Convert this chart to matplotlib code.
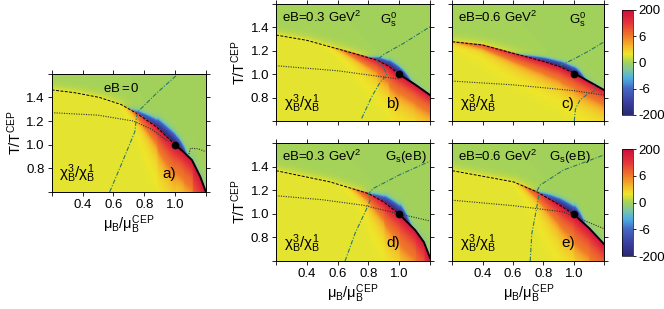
import numpy as np
import matplotlib
matplotlib.use("Agg")
import matplotlib.pyplot as plt
from matplotlib.colors import LinearSegmentedColormap, FuncNorm

plt.rcParams['font.family'] = ['Liberation Sans', 'DejaVu Sans']
plt.rcParams['mathtext.fontset'] = 'custom'
plt.rcParams['mathtext.rm'] = 'Liberation Sans'
plt.rcParams['mathtext.it'] = 'Liberation Sans'
plt.rcParams['mathtext.bf'] = 'Liberation Sans:bold'

# ---- lines (mu_B/mu_B^CEP, T/T^CEP) ----
# a) eB = 0
a_dash_mu = [0.2, 0.35, 0.51, 0.65, 0.75, 0.88, 1.0]
a_dash_T = [1.464, 1.44, 1.40, 1.34, 1.266, 1.15, 1.0]
a_solid_mu = [1.0, 1.05, 1.11, 1.163, 1.2]
a_solid_T = [1.0, 0.945, 0.869, 0.73, 0.6]
a_dot_mu = [0.2, 0.5, 0.73, 0.85, 0.95]
a_dot_T = [1.271, 1.25, 1.2, 1.13, 1.03]
a_dot2_mu = [1.09, 1.10, 1.15, 1.2]
a_dot2_T = [0.92, 0.97, 0.965, 0.94]
a_teal_mu = [0.576, 0.663, 0.739, 0.75, 0.76, 0.88, 1.02]
a_teal_T = [0.6, 0.869, 1.11, 1.237, 1.28, 1.436, 1.6]

# b) eB = 0.3 GeV^2, Gs0
b_dash_mu = [0.2, 0.4, 0.55, 0.7, 0.854, 0.93, 1.0]
b_dash_T = [1.335, 1.29, 1.235, 1.18, 1.121, 1.07, 1.0]
b_solid_mu = [1.0, 1.1, 1.2]
b_solid_T = [1.0, 0.915, 0.822]
b_dot_mu = [0.2, 0.6, 0.92, 1.0]
b_dot_T = [1.073, 1.03, 0.973, 0.96]
b_teal_mu = [0.756, 0.821, 0.875, 0.919, 0.897, 0.854, 0.90, 1.027, 1.2]
b_teal_T = [0.623, 0.808, 0.93, 0.993, 1.064, 1.121, 1.17, 1.264, 1.406]

# c) eB = 0.6 GeV^2, Gs0
c_dash_mu = [0.2, 0.4, 0.604, 0.8, 0.91, 1.0]
c_dash_T = [1.278, 1.25, 1.178, 1.11, 1.064, 1.01]
c_solid_mu = [1.0, 1.2]
c_solid_T = [1.01, 0.865]
c_dot_mu = [0.2, 0.6, 1.0, 1.2]
c_dot_T = [0.942, 0.91, 0.86, 0.822]
c_teal_mu = [1.003, 1.01, 1.04, 1.09, 1.139, 1.14, 1.125]
c_teal_T = [0.6, 0.7, 0.78, 0.83, 0.86, 0.885, 0.91]
c_teal2_mu = [0.91, 1.0, 1.1, 1.2]
c_teal2_T = [1.075, 1.13, 1.2, 1.278]

# d) eB = 0.3 GeV^2, Gs(eB)
d_dash_mu = [0.2, 0.551, 0.8, 0.9, 1.0]
d_dash_T = [1.366, 1.271, 1.172, 1.1, 0.998]
d_solid_mu = [1.0, 1.103, 1.16, 1.2]
d_solid_T = [0.998, 0.863, 0.76, 0.626]
d_dot_mu = [0.2, 0.5, 0.767, 1.0, 1.2]
d_dot_T = [1.154, 1.12, 1.073, 1.0, 0.94]
d_teal_mu = [0.648, 0.713, 0.789, 0.81, 0.80, 0.832, 1.0, 1.2]
d_teal_T = [0.6, 0.835, 1.046, 1.116, 1.17, 1.216, 1.33, 1.447]

# e) eB = 0.6 GeV^2, Gs(eB)
e_dash_mu = [0.2, 0.604, 0.757, 0.9, 1.0]
e_dash_T = [1.366, 1.271, 1.186, 1.08, 0.996]
e_solid_mu = [1.0, 1.1, 1.2]
e_solid_T = [0.996, 0.88, 0.742]
e_dot_mu = [0.2, 0.6, 0.931, 1.2]
e_dot_T = [1.116, 1.07, 1.017, 0.874]
e_teal_mu = [0.713, 0.724, 0.757, 0.768, 0.76, 0.779, 0.931, 1.2]
e_teal_T = [0.6, 0.835, 1.061, 1.145, 1.2, 1.244, 1.371, 1.5]

cbar_ticks = [-200, -6, 0, 6, 200]

# ---- colour map and norm (ticks -200,-6,0,6,200 evenly spaced) ----
cmap = LinearSegmentedColormap.from_list("chi", [
    (0.0, '#2b2973'), (0.12, '#3a3f9e'), (0.25, '#4467c2'), (0.35, '#4fb0e2'),
    (0.43, '#7fc6a0'), (0.5, '#a4d25a'), (0.58, '#eee62a'), (0.66, '#f5b42a'),
    (0.75, '#f07c28'), (0.87, '#e6363a'), (1.0, '#cc0c3c')])


def fwd(v):
    v = np.asarray(v, dtype=float)
    a = np.abs(v)
    r = np.where(a <= 6, a / 6.0, 1 + np.log(np.maximum(a, 6) / 6.0) / np.log(200 / 6.0))
    return np.sign(v) * r


def inv(r):
    r = np.asarray(r, dtype=float)
    a = np.abs(r)
    v = np.where(a <= 1, a * 6.0, 6.0 * np.exp((a - 1) * np.log(200 / 6.0)))
    return np.sign(r) * v


norm = FuncNorm((fwd, inv), vmin=-200, vmax=200)

mu = np.linspace(0.2, 1.2, 400)
tt = np.linspace(0.6, 1.6, 400)
M, T = np.meshgrid(mu, tt)


def chi_field(bmu, bT, s_red, w_red, s_blue, w_blue):
    bT_g = np.interp(mu, bmu, bT)
    slope = np.gradient(bT_g, mu)
    d = (T - bT_g[None, :]) / np.sqrt(1 + slope[None, :] ** 2)
    x = M - 1.0
    right = 1 / (1 + np.exp(-x / 0.01))
    a_red = 200 * np.exp(-(np.minimum(x, 0) / s_red) ** 2) * np.exp(-(np.maximum(x, 0) / 0.5) ** 2)
    a_blue = 200 * np.exp(-(np.minimum(x, 0) / s_blue) ** 2) * np.exp(-(np.maximum(x, 0) / 0.035) ** 2)
    dn = np.minimum(d, 0)
    dp = np.maximum(d, 0)
    below = 1.6 + a_red * (0.9 * np.exp(dn / w_red) + 0.1 * np.exp(dn / (4 * w_red)))
    above = (1.6 * np.exp(-dp / 0.03) - a_blue * np.exp(-dp / w_blue)
             - 2.5 * right * np.exp(-dp / 0.02) - 1.0 * np.exp(-dp / 0.05) * np.exp(-(x / 0.2) ** 2))
    return np.where(d < 0, below, above)


panels = [
    dict(pos=[0.078, 0.379, 0.232, 0.382], dash=(a_dash_mu, a_dash_T), solid=(a_solid_mu, a_solid_T),
         dots=[(a_dot_mu, a_dot_T), (a_dot2_mu, a_dot2_T)], teal=[(a_teal_mu, a_teal_T)],
         par=(0.15, 0.025, 0.15, 0.013), eb='eB$\\,$=$\\,$0', gs='', gx=0, tag='a)', xlab=True, ylab=True),
    dict(pos=[0.4157, 0.608, 0.232, 0.379], dash=(b_dash_mu, b_dash_T), solid=(b_solid_mu, b_solid_T),
         dots=[(b_dot_mu, b_dot_T)], teal=[(b_teal_mu, b_teal_T)],
         par=(0.2, 0.02, 0.1, 0.01), eb='eB=0.3 GeV$^2$', gs='G$_s^0$', gx=0.79, tag='b)', xlab=False, ylab=True),
    dict(pos=[0.681, 0.608, 0.229, 0.379], dash=(c_dash_mu, c_dash_T), solid=(c_solid_mu, c_solid_T),
         dots=[(c_dot_mu, c_dot_T)], teal=[(c_teal_mu, c_teal_T), (c_teal2_mu, c_teal2_T)],
         par=(0.4, 0.018, 0.18, 0.01), eb='eB=0.6 GeV$^2$', gs='G$_s^0$', gx=0.88, tag='c)', xlab=False, ylab=False),
    dict(pos=[0.4157, 0.155, 0.232, 0.382], dash=(d_dash_mu, d_dash_T), solid=(d_solid_mu, d_solid_T),
         dots=[(d_dot_mu, d_dot_T)], teal=[(d_teal_mu, d_teal_T)],
         par=(0.15, 0.025, 0.1, 0.012), eb='eB=0.3 GeV$^2$', gs='G$_s$(eB)', gx=0.98, tag='d)', xlab=True, ylab=True),
    dict(pos=[0.681, 0.155, 0.229, 0.382], dash=(e_dash_mu, e_dash_T), solid=(e_solid_mu, e_solid_T),
         dots=[(e_dot_mu, e_dot_T)], teal=[(e_teal_mu, e_teal_T)],
         par=(0.17, 0.025, 0.12, 0.012), eb='eB=0.6 GeV$^2$', gs='G$_s$(eB)', gx=0.91, tag='e)', xlab=True, ylab=False),
]

fig = plt.figure(figsize=(6.64, 3.09), dpi=100)
teal = '#2a7868'
im = None
for p in panels:
    ax = fig.add_axes(p['pos'])
    bmu = list(p['dash'][0]) + list(p['solid'][0][1:])
    bT = list(p['dash'][1]) + list(p['solid'][1][1:])
    Z = chi_field(bmu, bT, *p['par'])
    im = ax.imshow(Z, origin='lower', extent=[0.2, 1.2, 0.6, 1.6], aspect='auto',
                   cmap=cmap, norm=norm, interpolation='bilinear')
    ax.plot(*p['dash'], color='k', ls=(0, (3, 1.5)), lw=0.7)
    ax.plot(*p['solid'], color='k', lw=1.3)
    for dm, dT in p['dots']:
        ax.plot(dm, dT, color='#333333', ls=(0, (1, 1.2)), lw=0.8)
    for tm, tT in p['teal']:
        ax.plot(tm, tT, color=teal, ls=(0, (4, 1.5, 1, 1.5)), lw=0.8)
    ax.plot([1.0], [1.0], 'o', color='k', ms=4.5)
    ax.set_xlim(0.2, 1.2)
    ax.set_ylim(0.6, 1.6)
    ax.set_xticks([0.2, 0.4, 0.6, 0.8, 1.0, 1.2])
    ax.set_yticks([0.6, 0.8, 1.0, 1.2, 1.4, 1.6])
    ax.tick_params(direction='out', length=3, width=0.6, top=True, right=True, labelsize=9.5, pad=2)
    ax.set_xticklabels(['', '0.4', '0.6', '0.8', '1.0', ''] if p['xlab'] else [''] * 6)
    ax.set_yticklabels(['', '0.8', '1.0', '1.2', '1.4', ''] if p['ylab'] else [''] * 6)
    for s in ax.spines.values():
        s.set_linewidth(0.7)
    if p['xlab']:
        ax.set_xlabel('$\\mu_B/\\mu_B^{CEP}$', fontsize=10.5, labelpad=2)
    if p['ylab']:
        ax.set_ylabel('T/T$^{CEP}$', fontsize=10.5, labelpad=2)
    if p['gs']:
        ax.text(0.04, 0.95, p['eb'], transform=ax.transAxes, fontsize=9.5, va='top')
        ax.text(p['gx'], 0.95, p['gs'], transform=ax.transAxes, fontsize=9.5, va='top', ha='right')
    else:
        ax.text(0.45, 0.93, p['eb'], transform=ax.transAxes, fontsize=9.5, va='top', ha='center')
    ax.text(0.05, 0.15, '$\\chi_B^3/\\chi_B^1$', transform=ax.transAxes, fontsize=11, va='center')
    ax.text(0.76, 0.15, p['tag'], transform=ax.transAxes, fontsize=11, ha='center', va='center')

for rect in ([0.937, 0.628, 0.0166, 0.34], [0.937, 0.1715, 0.0166, 0.346]):
    cax = fig.add_axes(rect)
    cb = fig.colorbar(im, cax=cax, ticks=cbar_ticks)
    cb.ax.set_yticklabels([str(t) for t in cbar_ticks])
    cb.ax.tick_params(labelsize=9.5, length=2.5, width=0.6, pad=1)
    cb.outline.set_linewidth(0.5)

fig.savefig('out.png', dpi=100)
